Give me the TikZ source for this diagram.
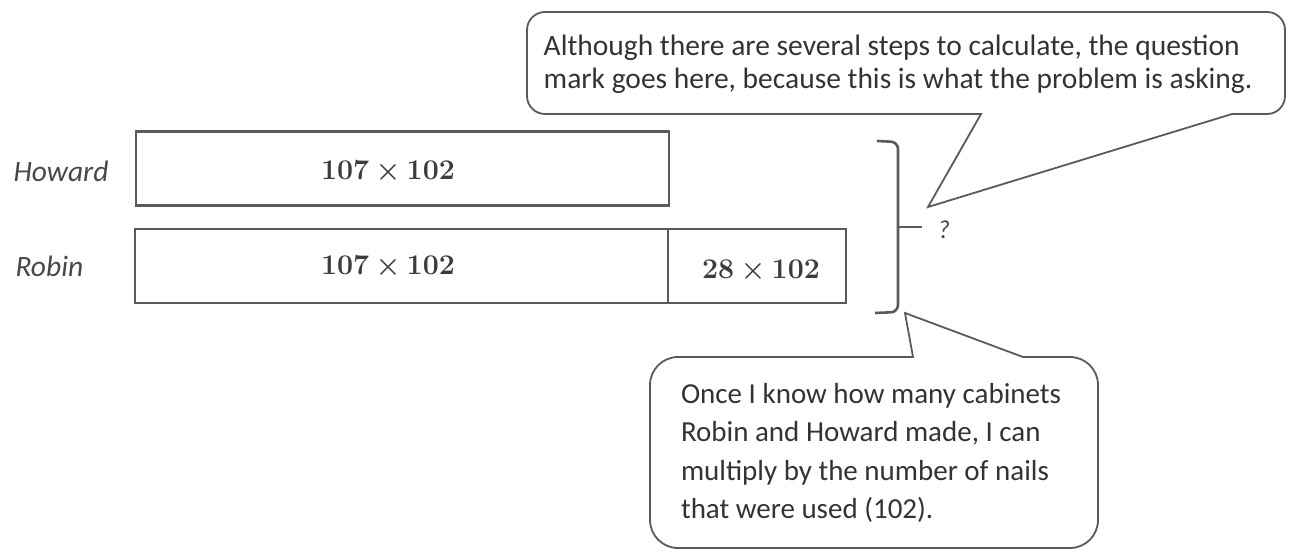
\documentclass[tikz,border=0pt]{standalone}
\usepackage[no-math]{fontspec}
\setmainfont{Carlito}
\newfontfamily\numfont{Latin Modern Roman}
\definecolor{linegray}{HTML}{5A5A5A}
\definecolor{textgray}{HTML}{333333}
\definecolor{labelgray}{HTML}{484848}
\definecolor{numgray}{HTML}{3C3C3C}
\newcommand{\tms}{\hspace{0.22em}×\hspace{0.22em}}
\begin{document}
\begin{tikzpicture}[x=1pt,y=-1pt,
  bar/.style={draw=linegray, line width=2.6pt, inner sep=0pt, minimum height=74pt},
  mathlbl/.style={text=numgray, font=\fontsize{28.5}{30}\numfont\bfseries},
  namelbl/.style={text=labelgray, font=\fontsize{29.5}{32}\selectfont\itshape},
  calloutline/.style={draw=linegray, line width=1.8pt, line join=miter},
  callouttext/.style={text=textgray, align=left, inner sep=0pt},
  bracket/.style={draw=linegray, line width=2.6pt}]
\useasboundingbox (0,0) rectangle (1289,552);

% name labels
\node[namelbl, anchor=west] (howard) at (10,171) {Howard};
\node[namelbl, anchor=west] (robin) at (12,266) {Robin};

% Howard bar
\node[bar, minimum width=533pt] (hbar) at (402.5,168.5) {};
\node[mathlbl] (htext) at (388,170) {107\tms 102};

% Robin bar
\node[bar, minimum width=533pt] (rbarA) at (401.5,266) {};
\node[bar, minimum width=178pt] (rbarB) at (757,266) {};
\node[mathlbl] (rtextA) at (388,265) {107\tms 102};
\node[mathlbl] (rtextB) at (761,270) {28\tms 102};

% bracket and question mark
\coordinate (btop) at (877,141);
\coordinate (bmid) at (898,227);
\coordinate (bbot) at (875,313);
\node[namelbl, font=\fontsize{26}{30}\selectfont\itshape] (q) at (944,230) {?};
\draw[bracket, rounded corners=7pt] (btop) -- (898,142) -- (bmid) -- (898,312) -- (bbot);
\draw[bracket] (bmid) -- (922,227);

% top callout
\node[callouttext, font=\fontsize{29.5}{33}\selectfont] (ctop) at (898,64)
  {Although there are several steps to calculate, the question\\
   mark goes here, because this is what the problem is asking.};
\draw[calloutline] (700,114) -- (981,114) -- (928,207) -- (1232,114) -- (1245,114)
  [rounded corners=18pt] -- (1285,114) -- (1285,12) -- (527,12) -- (527,114) -- cycle;

% bottom callout
\node[callouttext, font=\fontsize{29}{38.5}\selectfont] (cbot) at (871,453)
  {Once I know how many cabinets\\
   Robin and Howard made, I can\\
   multiply by the number of nails\\
   that were used (102).};
\draw[calloutline] (780,357) -- (913,357) -- (905,313) -- (1023,357) -- (1040,357)
  [rounded corners=28pt] -- (1098,357) -- (1098,548) -- (650,548) -- (650,357) -- cycle;
\end{tikzpicture}
\end{document}
